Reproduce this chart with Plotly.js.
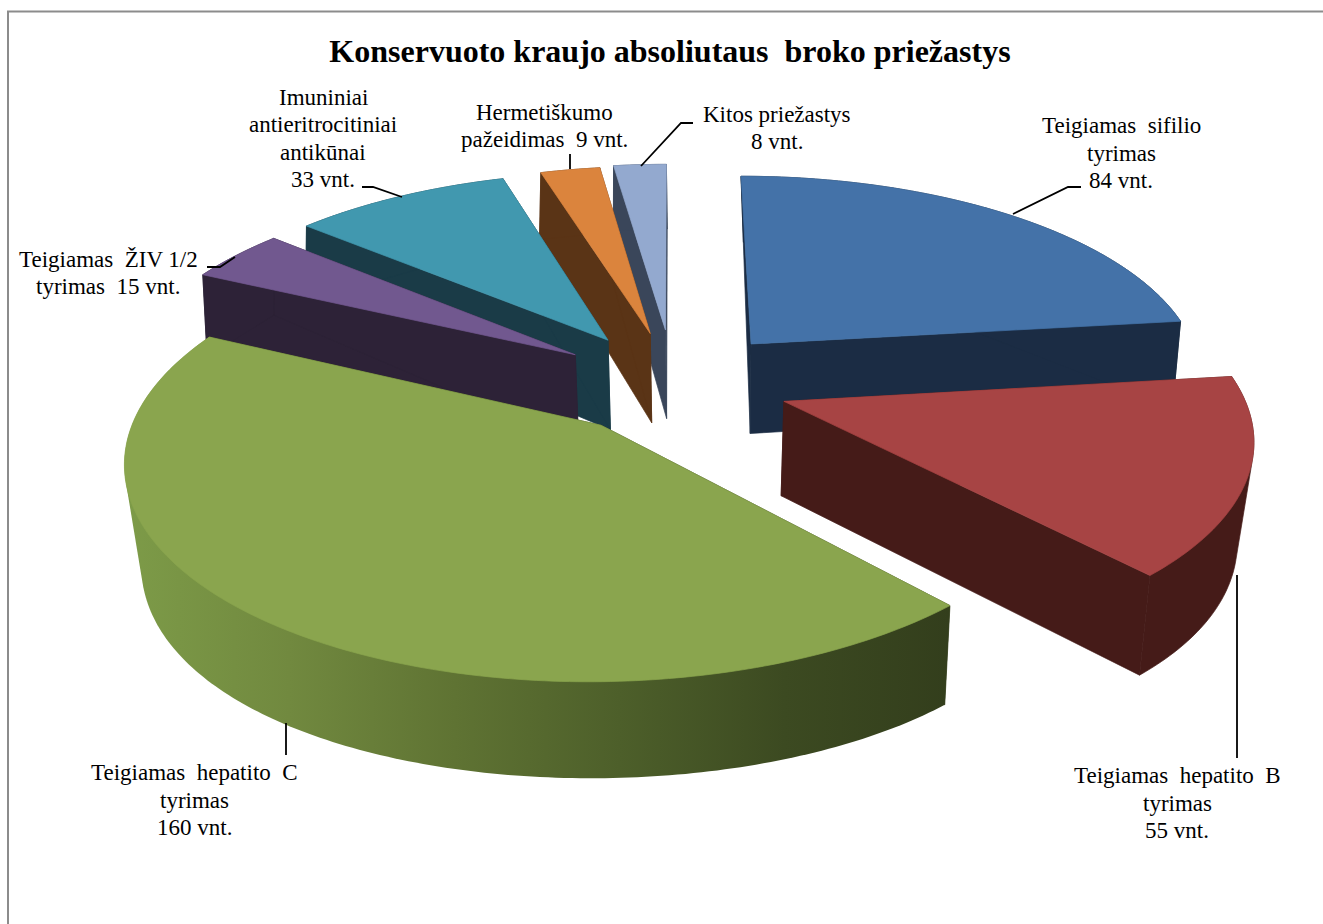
<!DOCTYPE html>
<html><head><meta charset="utf-8">
<script src="https://cdn.plot.ly/plotly-3.0.1.min.js"></script>
<style>html,body{margin:0;padding:0;background:#fff;overflow:hidden}</style>
</head><body><div id="chart" style="width:1323px;height:924px"></div>
<script>
// ---- data (clockwise from 12 o'clock) ----
const categories = ["Teigiamas  sifilio<br>tyrimas","Teigiamas  hepatito  B<br>tyrimas","Teigiamas  hepatito  C<br>tyrimas","Teigiamas  ŽIV 1/2<br>tyrimas","Imuniniai<br>antieritrocitiniai<br>antikūnai","Hermetiškumo<br>pažeidimas","Kitos priežastys"];
const values = [84,55,160,15,33,9,8];
const valueJoin = ["<br>","<br>","<br>","  ","<br>","  ","<br>"];
const topColors = ["#4472a8","#a74444","#8aa54e","#71588f","#4198af","#db843d","#93a9cf"];
const wallColors = ["#1b2c44","#451b18","#36411d","#2d2237","#1a3b47","#5a3416","#3a465a"];
const explode = [0.27,0.27,0.25,0.24,0.24,0.22,0.25];
const sliceNudge = [[3,3],[-2,1],[2,2],[-4,0],[-3,-1],[2,-5],[4,-2]];
const drawOrder = [6,5,0,4,3,2,1];
const greenWallStops = [[0,"#7d9b48"],[0.2,"#71893f"],[0.4,"#5f7333"],[0.6,"#4d5f2a"],[0.8,"#3c4a21"],[1,"#333e1c"]];

// ---- projection of the tilted disc ----
const TOP = {cx:669,cy:381,f:455,g:204,p:0.15,pxF:0.15,pxB:0.15};
const BOT = {cx:670,cy:474,f:440,g:220,p:0.105,pxF:0.16,pxB:0.10};
function proj(pl,X,V,n){const px=V>0?pl.pxF:pl.pxB;return [pl.cx+pl.f*X/(1-px*V)+n[0], pl.cy+pl.g*V/(1-pl.p*V)+n[1]];}
const total = values.reduce((a,b)=>a+b,0);
let cum=0;
const slices = values.map((v,i)=>{const a0=cum/total*2*Math.PI;cum+=v;const a1=cum/total*2*Math.PI;
  const m=(a0+a1)/2;return {a0,a1,ox:explode[i]*Math.sin(m),oy:-explode[i]*Math.cos(m),n:sliceNudge[i]};});
function angles(s){const n=Math.max(4,Math.ceil((s.a1-s.a0)/0.015));const out=[];
  for(let k=0;k<=n;k++)out.push(s.a0+(s.a1-s.a0)*k/n);return out;}
const pt=(s,pl,t)=>proj(pl,s.ox+Math.sin(t),s.oy-Math.cos(t),s.n);
// outline of the extruded rim: convex hull of its top and bottom arcs
function hull(points){const p=points.slice().sort((a,b)=>a[0]-b[0]||a[1]-b[1]);
  const cross=(o,a,b)=>(a[0]-o[0])*(b[1]-o[1])-(a[1]-o[1])*(b[0]-o[0]);
  const chain=list=>{const h=[];list.forEach(q=>{while(h.length>=2&&cross(h[h.length-2],h[h.length-1],q)<=0)h.pop();h.push(q);});h.pop();return h;};
  const out=chain(p).concat(chain(p.slice().reverse()));out.push(out[0]);return out;}
function poly(pts,color,grad){const t={type:'scatter',mode:'lines',x:pts.map(p=>p[0]),y:pts.map(p=>p[1]),fill:'toself',
  hoverinfo:'skip',showlegend:false};
  if(grad){t.fillgradient={type:'horizontal',colorscale:grad};t.line={width:0,color:'rgba(0,0,0,0)',simplify:false};}
  else{t.fillcolor=color;t.line={width:0.7,color:color,simplify:false};}return t;}
const traces=[];
drawOrder.forEach(i=>{const s=slices[i];
  const aT=proj(TOP,s.ox,s.oy,s.n),aB=proj(BOT,s.ox,s.oy,s.n);
  traces.push(poly([aT,pt(s,TOP,s.a0),pt(s,BOT,s.a0),aB,aT],wallColors[i]));
  traces.push(poly([aT,pt(s,TOP,s.a1),pt(s,BOT,s.a1),aB,aT],wallColors[i]));
  const ts=angles(s);
  const wall=hull(ts.map(t=>pt(s,TOP,t)).concat(ts.map(t=>pt(s,BOT,t))));
  traces.push(poly(wall,wallColors[i],i===2?greenWallStops:null));
  const top=[aT].concat(ts.map(t=>pt(s,TOP,t)));top.push(aT);
  traces.push(poly(top,topColors[i]));
});

// ---- labels and leaders ----
const labelPos = [[1121,153],[1177,803],[194,800],[108,273],[323,138.5],[544,126],[777,128]];
const lineGap = 27.3;
const annotations = [];
categories.forEach((c,i)=>{
  const lines=(c+valueJoin[i]+values[i]+' vnt.').split('<br>');
  lines.forEach((t,k)=>annotations.push({xref:'x',yref:'y',x:labelPos[i][0],y:labelPos[i][1]+(k-(lines.length-1)/2)*lineGap,
    xanchor:'center',yanchor:'middle',text:t,showarrow:false,align:'center',
    font:{family:'"Liberation Serif",serif',size:23,color:'#000'}}));
});
const leaders = ["M1013,214L1068,187L1081,187","M1237,575L1237,758","M286,723L286,755","M207,267L220,267L235,257","M362,187L373,187L402,197","M570,154L570,169","M693,123L681,123L641,166"];
const shapes = leaders.map(d=>({type:'path',xref:'x',yref:'y',path:d,line:{color:'#000',width:1.8}}));
shapes.push({type:'path',xref:'x',yref:'y',path:'M8,924L8,11.5L1323,11.5',line:{color:'#8c8c8c',width:2}});

Plotly.newPlot('chart',traces,{
  width:1323,height:924,margin:{l:0,r:0,t:0,b:0},paper_bgcolor:'#fff',plot_bgcolor:'#fff',showlegend:false,
  title:{text:'Konservuoto kraujo absoliutaus  broko priežastys',font:{family:'"Liberation Serif",serif',size:32,color:'#000',weight:'bold'},
    x:670/1323,xanchor:'center',y:1-51/924,yanchor:'middle',xref:'paper',yref:'paper'},
  xaxis:{range:[0,1323],visible:false,fixedrange:true},
  yaxis:{range:[924,0],visible:false,fixedrange:true},
  annotations,shapes
},{staticPlot:true,displayModeBar:false});
</script></body></html>
